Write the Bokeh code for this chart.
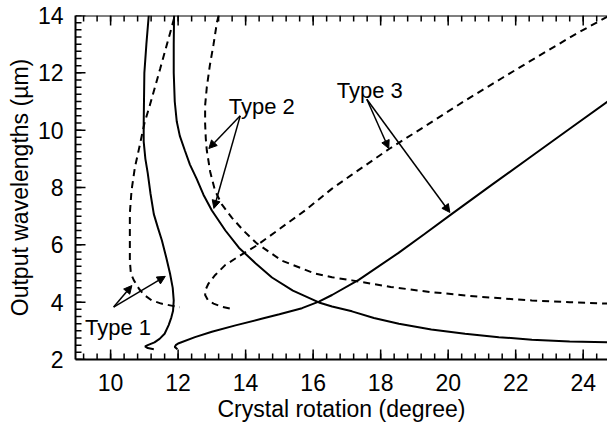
from bokeh.plotting import figure
from bokeh.models import Range1d, Arrow, NormalHead, ColumnDataSource, Span
from bokeh.core.properties import value
from bokeh.embed import file_html
from bokeh.resources import INLINE

FONT = "Liberation Sans"

# ---- data ----
x_range_lim = [8.96, 24.72]
y_range_lim = [2, 14]
x_major = [10, 12, 14, 16, 18, 20, 22, 24]
y_major = [2, 4, 6, 8, 10, 12, 14]
x_minor_step = 0.4
y_minor_step = 0.25

t1_solid_x = [11.13, 11.06, 11.0, 10.98, 10.98, 11.03, 11.1, 11.18, 11.28, 11.4, 11.52, 11.65, 11.76, 11.84, 11.87, 11.85, 11.8, 11.72, 11.6, 11.45, 11.3, 11.1, 11.02, 11.1, 11.28]
t1_solid_y = [14.0, 13.0, 12.0, 10.23, 9.6, 9.0, 8.5, 7.8, 7.07, 6.6, 6.15, 5.55, 5.0, 4.5, 4.06, 3.7, 3.47, 3.2, 2.9, 2.72, 2.6, 2.5, 2.46, 2.4, 2.36]

t1_dash_x = [11.88, 11.8, 11.47, 11.16, 11.0, 10.85, 10.72, 10.62, 10.57, 10.57, 10.57, 10.6, 10.69, 10.85, 11.0, 11.22, 11.5, 11.8, 12.05]
t1_dash_y = [13.9, 13.55, 12.15, 10.86, 10.23, 9.4, 8.7, 7.9, 7.1, 6.15, 5.45, 5.0, 4.76, 4.45, 4.25, 4.06, 3.95, 3.88, 3.82]

t2_solid_x = [11.88, 11.87, 11.87, 11.9, 11.96, 12.05, 12.2, 12.35, 12.55, 12.75, 13.0, 13.4, 13.8, 14.3, 14.78, 15.4, 16.17, 16.56, 17.15, 17.8, 18.54, 19.5, 20.5, 21.5, 22.48, 23.6, 24.73]
t2_solid_y = [14.0, 13.0, 12.0, 11.0, 10.3, 9.8, 9.29, 8.8, 8.3, 7.75, 7.2, 6.5, 5.9, 5.35, 4.86, 4.4, 3.99, 3.85, 3.68, 3.45, 3.25, 3.05, 2.9, 2.78, 2.69, 2.63, 2.6]

t2_dash_x = [13.2, 13.15, 13.05, 12.94, 12.85, 12.8, 12.8, 12.82, 12.85, 12.95, 13.09, 13.3, 13.59, 13.95, 14.33, 15.07, 16.05, 16.56, 17.15, 18.3, 19.5, 21.0, 22.48, 23.6, 24.73]
t2_dash_y = [14.0, 13.76, 13.0, 12.26, 11.5, 10.86, 10.23, 9.7, 9.29, 8.55, 7.9, 7.4, 6.95, 6.48, 6.05, 5.45, 5.0, 4.87, 4.76, 4.53, 4.35, 4.18, 4.06, 4.0, 3.95]

t3_solid_x = [11.98, 11.9, 11.93, 12.0, 12.5, 13.0, 13.7, 14.5, 15.0, 15.67, 16.17, 16.56, 17.35, 18.53, 19.3, 20.11, 21.3, 22.48, 23.6, 24.73]
t3_solid_y = [2.36, 2.44, 2.5, 2.56, 2.78, 2.97, 3.19, 3.43, 3.58, 3.79, 4.02, 4.25, 4.78, 5.72, 6.38, 7.08, 8.1, 9.1, 10.05, 11.0]

t3_dash_x = [13.53, 13.3, 13.05, 12.88, 12.8, 12.82, 12.9, 13.1, 13.4, 13.8, 14.33, 15.0, 15.76, 16.56, 17.15, 18.27, 19.4, 20.5, 21.6, 22.7, 23.7, 24.73]
t3_dash_y = [3.78, 3.84, 3.95, 4.08, 4.25, 4.45, 4.65, 4.95, 5.3, 5.6, 5.98, 6.55, 7.2, 7.96, 8.45, 9.36, 10.2, 11.03, 11.82, 12.6, 13.3, 13.97]

label_text = ["Type 1", "Type 2", "Type 3"]
label_x = [9.24, 13.5, 16.7]
label_y = [3.13, 10.83, 11.38]

arrow_x0 = [10.09, 10.09, 13.84, 13.84, 17.59, 17.59]
arrow_y0 = [3.83, 3.83, 10.5, 10.5, 11.08, 11.08]
arrow_x1 = [10.63, 11.62, 12.91, 13.06, 18.24, 20.05]
arrow_y1 = [4.58, 4.9, 9.36, 7.27, 9.36, 7.13]

# ---- figure ----
p = figure(width=607, height=429, output_backend="svg", toolbar_location=None,
           x_range=Range1d(*x_range_lim), y_range=Range1d(*y_range_lim),
           min_border_left=75, min_border_right=0, min_border_top=15, min_border_bottom=70)
p.outline_line_color = None
p.xgrid.visible = False
p.ygrid.visible = False
p.background_fill_color = "white"
p.border_fill_color = "white"

def style_axis(ax, ticks):
    ax.ticker = ticks
    ax.axis_line_width = 2
    ax.axis_line_color = "black"
    ax.major_tick_in = 0
    ax.major_tick_out = 0
    ax.minor_tick_in = 0
    ax.minor_tick_out = 0
    ax.major_label_text_font = FONT
    ax.major_label_text_font_size = "23px"
    ax.major_label_text_color = "black"
    ax.axis_label_text_font = FONT
    ax.axis_label_text_font_size = "23px"
    ax.axis_label_text_font_style = "normal"
    ax.axis_label_text_color = "black"

xa = p.xaxis[0]
ya = p.yaxis[0]
style_axis(xa, x_major)
style_axis(ya, y_major)
xa.axis_label = "Crystal rotation (degree)"
xa.major_label_standoff = 14
xa.axis_label_standoff = 2
ya.axis_label = "Output wavelengths (µm)"
ya.major_label_standoff = 12
ya.axis_label_standoff = 2

# top frame line
p.add_layout(Span(location=y_range_lim[1], dimension="width", line_color="black", line_width=2))

# inward tick marks drawn as short segments (lengths converted from pixels)
px_x = (x_range_lim[1] - x_range_lim[0]) / 532.0   # data units per pixel, x
px_y = (y_range_lim[1] - y_range_lim[0]) / 344.0   # data units per pixel, y
x_minor = [x_major[0] + x_minor_step * k for k in range(-3, 40)]
x_minor = [v for v in x_minor if x_range_lim[0] < v < x_range_lim[1]]
y_minor = [y_major[0] + y_minor_step * k for k in range(0, 49)]
y0, y1 = y_range_lim
xl = x_range_lim[0]
tick_x0, tick_x1, tick_y0, tick_y1 = [], [], [], []
for ticks, ln in ((x_major, 10), (x_minor, 6)):
    for t in ticks:
        tick_x0 += [t, t]
        tick_x1 += [t, t]
        tick_y0 += [y0, y1]
        tick_y1 += [y0 + ln * px_y, y1 - ln * px_y]
for ticks, ln in ((y_major, 10), (y_minor, 6)):
    for t in ticks:
        tick_x0.append(xl)
        tick_x1.append(xl + ln * px_x)
        tick_y0.append(t)
        tick_y1.append(t)
tsrc = ColumnDataSource(dict(x0=tick_x0, x1=tick_x1, y0=tick_y0, y1=tick_y1))
p.segment(x0="x0", x1="x1", y0="y0", y1="y1", source=tsrc, line_color="black", line_width=1.5)

solid = dict(line_color="black", line_width=2)
dashed = dict(line_color="black", line_width=2, line_dash="7 5")

p.line(t1_solid_x, t1_solid_y, **solid)
p.line(t1_dash_x, t1_dash_y, **dashed)
p.line(t2_solid_x, t2_solid_y, **solid)
p.line(t2_dash_x, t2_dash_y, **dashed)
p.line(t3_solid_x, t3_solid_y, **solid)
p.line(t3_dash_x, t3_dash_y, **dashed)

p.text(x=label_x, y=label_y, text=label_text, text_font=value(FONT),
       text_font_size="22px", text_baseline="alphabetic", text_align="left",
       text_color="black")

asrc = ColumnDataSource(dict(x0=arrow_x0, y0=arrow_y0, x1=arrow_x1, y1=arrow_y1))
p.add_layout(Arrow(end=NormalHead(size=8, fill_color="black", line_color="black"),
                   x_start="x0", y_start="y0", x_end="x1", y_end="y1",
                   source=asrc, line_width=1.5, line_color="black"))

open("out.html", "w").write(file_html(p, INLINE))
